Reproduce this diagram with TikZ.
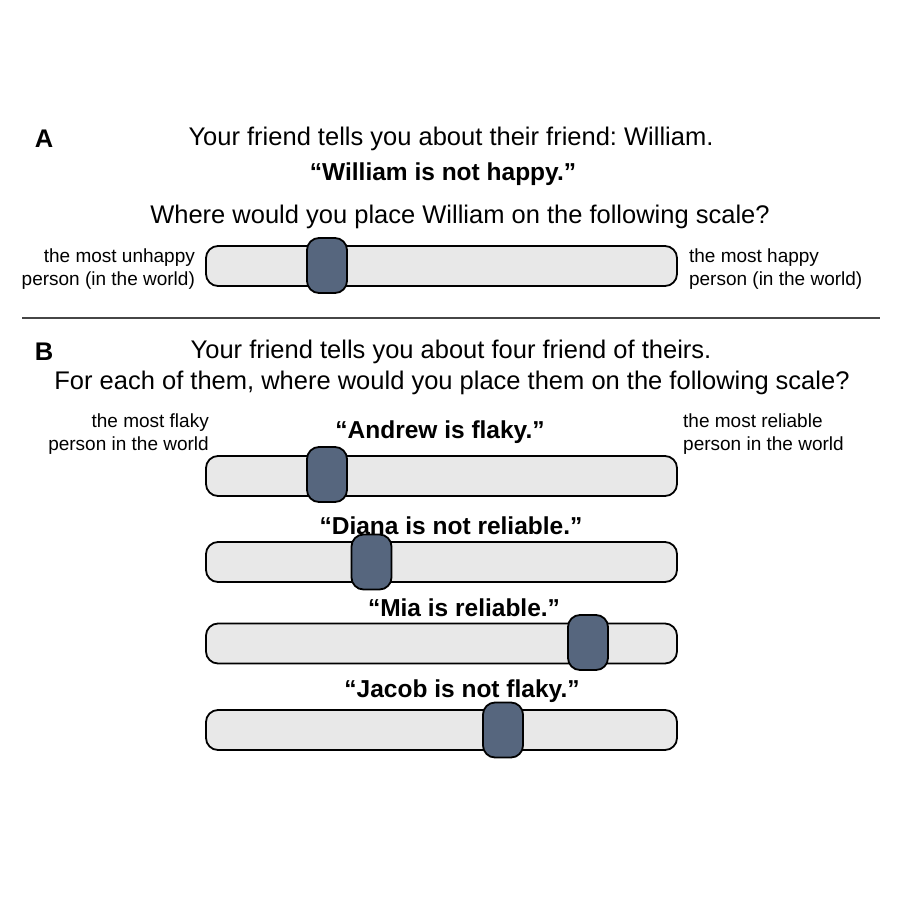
\documentclass[tikz,border=0pt]{standalone}
\usepackage{fontspec}
\setmainfont{Liberation Sans}
\usetikzlibrary{positioning}

\definecolor{barfill}{RGB}{232,232,232}
\definecolor{knobfill}{RGB}{86,102,126}
\definecolor{ruleline}{RGB}{70,70,70}

\begin{document}
\frenchspacing
\begin{tikzpicture}[
        x=1pt, y=-1pt,
        every node/.style={inner sep=0pt},
        prompt/.style={font=\fontsize{25.5}{31}\selectfont},
        quote/.style={font=\fontsize{24.5}{30}\selectfont\bfseries},
        panel/.style={font=\fontsize{25.5}{31}\selectfont\bfseries},
        endlabel/.style={font=\fontsize{19}{23}\selectfont},
        bar/.style={draw, line width=1.8pt, rounded corners=12pt, fill=barfill, minimum width=471pt, minimum height=40pt},
        knob/.style={draw, line width=1.8pt, rounded corners=12pt, fill=knobfill, minimum width=40pt, minimum height=55pt}
    ]
        \useasboundingbox (0,0) rectangle (900,900);

        % Panel A
        \node[panel] (labA) at (44,139) {A};
        \node[prompt] (introA) at (451,139) {Your friend tells you about their friend: William.};
        \node[quote] (quoteA) at (443,174) {“William is not happy.”};
        \node[prompt] (askA) at (460,217) {Where would you place William on the following scale?};

        \node[bar] (barA) at (441.5,266) {};
        \node[knob] (knobA) at (327,265.5) {};
        \node[endlabel, align=right, left=10pt of barA, yshift=-3pt] (lowA) {the most unhappy\\person (in the world)};
        \node[endlabel, align=left, right=11pt of barA, yshift=-3pt] (highA) {the most happy\\person (in the world)};

        % Separator
        \coordinate (sepL) at (22,318);
        \coordinate (sepR) at (880,318);
        \draw[line width=2.2pt, ruleline] (sepL) -- (sepR);

        % Panel B
        \node[panel] (labB) at (44,352) {B};
        \node[prompt] (introB) at (451,352) {Your friend tells you about four friend of theirs.};
        \node[prompt] (askB) at (452,383) {For each of them, where would you place them on the following scale?};

        \node[endlabel, align=right, anchor=east] (lowB) at (209,434) {the most flaky\\person in the world};
        \node[endlabel, align=left, anchor=west] (highB) at (683,434) {the most reliable\\person in the world};

        % Andrew
        \node[quote] (quoteAndrew) at (440,432) {“Andrew is flaky.”};
        \node[bar] (barAndrew) at (441.5,476) {};
        \node[knob] (knobAndrew) at (327,474.5) {};

        % Diana
        \node[quote] (quoteDiana) at (451,526) {“Diana is not reliable.”};
        \node[bar] (barDiana) at (441.5,562) {};
        \node[knob] (knobDiana) at (371.5,562) {};

        % Mia
        \node[quote] (quoteMia) at (464,608) {“Mia is reliable.”};
        \node[bar] (barMia) at (441.5,643.5) {};
        \node[knob] (knobMia) at (588,642.5) {};

        % Jacob
        \node[quote] (quoteJacob) at (462,691) {“Jacob is not flaky.”};
        \node[bar] (barJacob) at (441.5,730) {};
        \node[knob] (knobJacob) at (503,730) {};
    \end{tikzpicture}
\end{document}
